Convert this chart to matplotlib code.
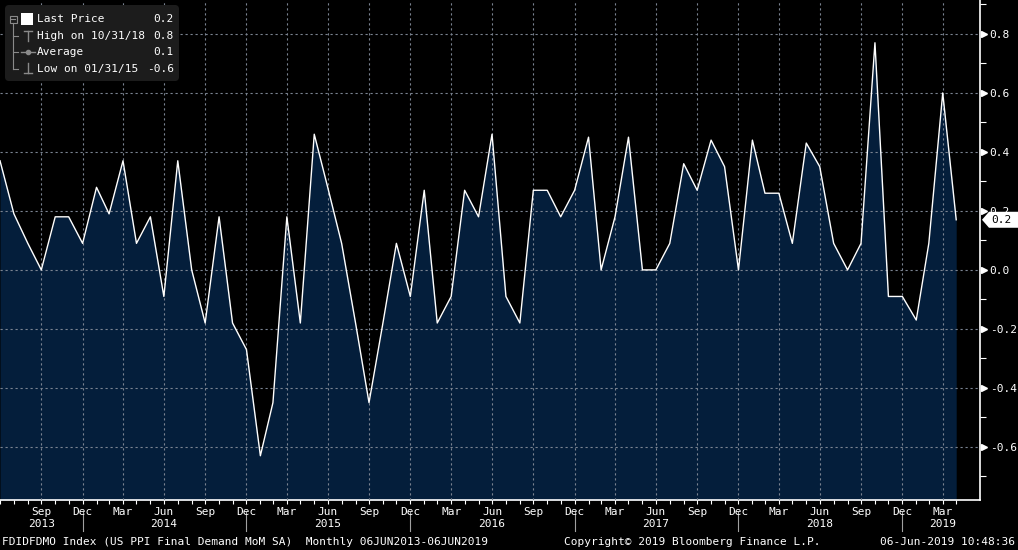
# plot.py
# bloomberg style area chart of us ppi final demand mom

import numpy as np
import pandas as pd
import matplotlib
matplotlib.use("Agg")
import matplotlib.pyplot as plt
import matplotlib.dates as mdates
import matplotlib.transforms as mtransforms
from matplotlib.patches import FancyBboxPatch, Polygon, Rectangle

# monthly values, jun 2013 .. apr 2019 (month ends)
start_date = "2013-06-30"
ppi_mom = [
    0.37, 0.19, 0.09, 0.00, 0.18, 0.18, 0.09, 0.28, 0.19, 0.37,
    0.09, 0.18, -0.09, 0.37, 0.00, -0.18, 0.18, -0.18, -0.27, -0.63,
    -0.45, 0.18, -0.18, 0.46, 0.28, 0.09, -0.18, -0.45, -0.18, 0.09,
    -0.09, 0.27, -0.18, -0.09, 0.27, 0.18, 0.46, -0.09, -0.18, 0.27,
    0.27, 0.18, 0.27, 0.45, 0.00, 0.18, 0.45, 0.00, 0.00, 0.09,
    0.36, 0.27, 0.44, 0.35, 0.00, 0.44, 0.26, 0.26, 0.09, 0.43,
    0.35, 0.09, 0.00, 0.09, 0.77, -0.09, -0.09, -0.17, 0.09, 0.60,
    0.17,
]
y_ticks = [-0.6, -0.4, -0.2, 0.0, 0.2, 0.4, 0.6, 0.8]
ticker_text = "FDIDFDMO Index (US PPI Final Demand MoM SA)  Monthly 06JUN2013-06JUN2019"
copyright_text = "Copyright\u00a9 2019 Bloomberg Finance L.P."
stamp_text = "06-Jun-2019 10:48:36"

FONT = "DejaVu Sans Mono"
W, H = 1018, 550
fill_color = "#041e3b"
grid_color = "#7a8391"
gray = "#8a8a8a"

dates = pd.date_range(start_date, periods=len(ppi_mom), freq=pd.offsets.MonthEnd())
x = mdates.date2num(dates.to_pydatetime())
vals = np.array(ppi_mom)

fig = plt.figure(figsize=(W / 100, H / 100), dpi=100, facecolor="black")
ax = fig.add_axes([0, 50 / H, 980 / W, 500 / H], facecolor="black")

y_lo, y_hi = -0.78, 0.915
ax.set_ylim(y_lo, y_hi)
ax.set_xlim(x[0], mdates.date2num(pd.Timestamp("2019-06-22").to_pydatetime()))

# area + line
ax.fill_between(x, vals, y_lo, color=fill_color, lw=0, zorder=1)
ax.plot(x, vals, color="white", lw=1.0, zorder=3)

# spines
for s in ["left", "top"]:
    ax.spines[s].set_visible(False)
for s in ["right", "bottom"]:
    ax.spines[s].set_color("white")
    ax.spines[s].set_linewidth(1.2)

# x ticks: quarters labelled, months as minor ticks
q_idx = list(range(3, len(x), 3))
ax.xaxis.set_major_locator(matplotlib.ticker.FixedLocator(x[q_idx]))
ax.xaxis.set_major_formatter(matplotlib.ticker.FixedFormatter([dates[i].strftime("%b") for i in q_idx]))
ax.xaxis.set_minor_locator(matplotlib.ticker.FixedLocator(x))
ax.tick_params(axis="x", which="both", colors="white", direction="out", length=3, width=0.8,
               pad=2, labelsize=8)
for lbl in ax.get_xticklabels():
    lbl.set_fontfamily(FONT)

# y ticks on the right (plain hyphen like the terminal)
ax.yaxis.tick_right()
ax.set_yticks(y_ticks)
ax.set_yticklabels([f"{v:.1f}".replace("-0.0", "0.0") for v in y_ticks], fontfamily=FONT)
ax.set_yticks(np.arange(-0.7, 0.95, 0.2), minor=True)
ax.tick_params(axis="y", which="major", length=0, pad=7, labelcolor="white", labelsize=8)
ax.tick_params(axis="y", which="minor", length=4, width=0.8, color="white")

# triangle markers at the major y ticks
tr_y = mtransforms.blended_transform_factory(ax.transAxes, ax.transData)
ax.plot([1.0 + 4 / 980] * len(y_ticks), y_ticks, transform=tr_y, ls="none", marker=">",
        ms=5, color="white", clip_on=False, zorder=6)

# dotted grid over the area
ax.set_axisbelow(False)
ax.grid(True, which="major", color=grid_color, ls=(0, (2, 2.5)), lw=0.8, zorder=2)

# year labels and separators under the axis
tr_x = mtransforms.blended_transform_factory(ax.transData, ax.transAxes)
for i, d in enumerate(dates):
    if d.month == 12:
        ax.plot([x[i], x[i]], [-12 / 500, -31 / 500], transform=tr_x, color="#a0a0a0",
                lw=0.8, clip_on=False)
years = sorted(set(dates.year))
for yr in years:
    idx = [i for i in q_idx if dates[i].year == yr]
    pick = [i for i in idx if dates[i].month == 6]
    i = pick[0] if pick else idx[0]
    ax.text(x[i], -24 / 500, str(yr), transform=tr_x, ha="center", va="center",
            color="white", fontsize=8, fontfamily=FONT)

# overlay in pixel coords for legend, tag and footer
ov = fig.add_axes([0, 0, 1, 1], zorder=5)
ov.set_xlim(0, W)
ov.set_ylim(H, 0)
ov.axis("off")
ov.patch.set_alpha(0)

# legend box
ov.add_patch(FancyBboxPatch((5, 5), 174, 76, boxstyle="round,pad=0,rounding_size=4",
                            fc="#1c1c1c", ec="none"))
last = vals[-1]
hi_i, lo_i = int(np.argmax(vals)), int(np.argmin(vals))
rows = [
    ("Last Price", f"{last:.1f}"),
    (f"High on {dates[hi_i].strftime('%m/%d/%y')}", f"{vals[hi_i]:.1f}"),
    ("Average", f"{vals.mean():.1f}"),
    (f"Low on {dates[lo_i].strftime('%m/%d/%y')}", f"{vals[lo_i]:.1f}"),
]
row_y = [19, 36, 52, 69]
for (name, v), yy in zip(rows, row_y):
    ov.text(37, yy, name, color="white", fontsize=8, fontfamily=FONT, va="center", ha="left")
    ov.text(174, yy, v, color="white", fontsize=8, fontfamily=FONT, va="center", ha="right")

# legend icons (tree lines, square, high/avg/low glyphs)
ov.add_patch(Rectangle((10, 15.5), 7, 7, fill=False, ec=gray, lw=0.8))
ov.plot([11.5, 15.5], [19, 19], color=gray, lw=0.8)
ov.plot([13.5, 13.5], [23, 69], color=gray, lw=0.8)
for yy in row_y[1:]:
    ov.plot([13.5, 18], [yy, yy], color=gray, lw=0.8)
ov.add_patch(Rectangle((21, 13), 12, 12, fc="white", ec="none"))
ov.plot([24, 32], [31, 31], color=gray, lw=1)
ov.plot([28, 28], [31, 41], color=gray, lw=1)
ov.plot([21, 35], [52, 52], color=gray, lw=1)
ov.plot([28], [52], marker="o", ms=3, color=gray)
ov.plot([28, 28], [63, 73], color=gray, lw=1)
ov.plot([24, 32], [73, 73], color=gray, lw=1)

# last price tag on the right axis
ty = H - ax.transData.transform((x[-1], last))[1]
ov.add_patch(Polygon([(982, ty), (989, ty - 8), (1018, ty - 8), (1018, ty + 8), (989, ty + 8)],
                     closed=True, fc="white", ec="none"))
ov.text(991, ty, f"{last:.1f}", color="black", fontsize=8, fontfamily=FONT, va="center", ha="left")

# footer
ov.text(2, 542, ticker_text, color="white", fontsize=8, fontfamily=FONT, va="center", ha="left")
ov.text(564, 542, copyright_text, color="white", fontsize=8, fontfamily=FONT, va="center", ha="left")
ov.text(1015, 542, stamp_text, color="white", fontsize=8, fontfamily=FONT, va="center", ha="right")

fig.savefig("out.png", dpi=100, facecolor="black")
